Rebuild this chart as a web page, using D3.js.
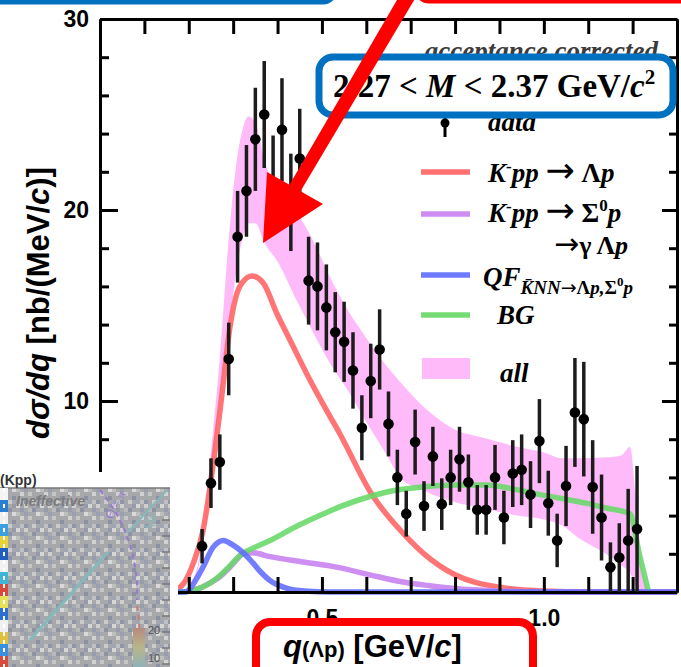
<!DOCTYPE html>
<html>
<head>
<meta charset="utf-8">
<script src="https://cdn.jsdelivr.net/npm/d3@7"></script>
<style>
  body { margin: 0; background: #fff; }
  svg { display: block; }
  .axis path, .axis line { stroke: #000; stroke-width: 3; }
  .axis text { font-family: "Liberation Sans", Arial, sans-serif; font-weight: bold; font-size: 23px; fill: #000; }
</style>
</head>
<body>
<div id="chart"></div>
<script>
// measured points, q(Λp) in GeV/c, dσ/dq in nb/(MeV/c)
var dataQ = [0.23, 0.25, 0.27, 0.29, 0.31, 0.33, 0.35, 0.37, 0.39, 0.41, 0.43, 0.45, 0.47, 0.49, 0.51,
  0.53, 0.55, 0.57, 0.59, 0.61, 0.63, 0.65, 0.67, 0.69, 0.71, 0.73, 0.75, 0.77, 0.79, 0.81, 0.83,
  0.85, 0.87, 0.89, 0.91, 0.93, 0.95, 0.97, 0.99, 1.01, 1.03, 1.05, 1.07, 1.09, 1.11, 1.13, 1.15,
  1.17, 1.19, 1.21]
var dataY = [2.4, 5.7, 6.8, 12.2, 18.6, 21.0, 23.7, 25.0, 21.3, 24.2, 20.4, 22.7, 16.3, 16.0, 14.9,
  13.6, 13.1, 11.6, 8.6, 11.05, 12.7, 8.8, 6.0, 4.1, 7.85, 4.5, 7.1, 4.6, 6.0, 6.95, 5.75,
  4.3, 4.3, 6.0, 3.9, 6.2, 6.4, 5.1, 7.9, 4.65, 2.7, 5.55, 9.4, 9.05, 5.5, 3.9, 1.3,
  1.8, 2.7, 3.3]
var dataErr = [0.9, 1.3, 1.45, 1.9, 2.4, 2.4, 2.7, 2.8, 2.6, 2.7, 2.55, 2.6, 2.3, 2.3, 2.25,
  2.1, 2.1, 2.0, 1.7, 1.95, 2.1, 1.7, 1.45, 1.2, 1.7, 1.3, 1.55, 1.35, 1.45, 1.7, 1.45,
  1.3, 1.3, 1.7, 1.4, 1.75, 1.85, 1.75, 2.2, 1.7, 1.4, 2.1, 2.85, 3.0, 2.45, 2.25, 1.3,
  1.8, 2.7, 3.3]

// model components [q, value]
var kppLambda = [[0.15, 0], [0.17, 0.1], [0.19, 0.5], [0.21, 1.5], [0.232, 3.2], [0.255, 6.7], [0.274, 10.2],
  [0.293, 13.9], [0.315, 16.0], [0.342, 16.55], [0.367, 16.2], [0.40, 14.5], [0.43, 13.1], [0.473, 11.1],
  [0.518, 9.2], [0.54, 8.3], [0.61, 5.2], [0.69, 2.9], [0.73, 2.0], [0.80, 0.9], [0.90, 0.25],
  [1.00, 0.05], [1.10, 0], [1.30, 0]]
var kppSigma = [[0.15, 0], [0.19, 0], [0.21, 0.1], [0.23, 0.25], [0.25, 0.5], [0.27, 0.8], [0.293, 1.3],
  [0.308, 1.7], [0.322, 2.0], [0.345, 2.05], [0.383, 1.85], [0.457, 1.57], [0.533, 1.3], [0.608, 0.9],
  [0.683, 0.52], [0.743, 0.33], [0.80, 0.18], [0.90, 0.05], [1.00, 0], [1.30, 0]]
var qfKNN = [[0.15, 0], [0.19, 0], [0.20, 0.1], [0.215, 0.6], [0.232, 1.3], [0.255, 2.35], [0.278, 2.7],
  [0.30, 2.45], [0.338, 1.7], [0.36, 1.1], [0.383, 0.6], [0.42, 0.2], [0.46, 0.05], [0.52, 0], [1.30, 0]]
var bgCurve = [[0.15, 0], [0.19, 0], [0.21, 0.1], [0.23, 0.25], [0.25, 0.5], [0.27, 0.85], [0.29, 1.3],
  [0.315, 1.9], [0.35, 2.35], [0.383, 2.7], [0.44, 3.4], [0.495, 4.0], [0.55, 4.55], [0.608, 5.0],
  [0.66, 5.3], [0.727, 5.5], [0.80, 5.6], [0.87, 5.6], [0.93, 5.4], [0.98, 5.15], [1.04, 4.9],
  [1.095, 4.65], [1.14, 4.4], [1.194, 4.1], [1.215, 2.0], [1.236, 0]]

// "all" band
var bandQ = [0.19, 0.21, 0.23, 0.25, 0.27, 0.29, 0.30, 0.31, 0.32, 0.334, 0.35, 0.37, 0.40, 0.44, 0.48,
  0.52, 0.56, 0.60, 0.64, 0.68, 0.72, 0.76, 0.80, 0.86, 0.94, 1.00, 1.04, 1.08, 1.14, 1.175, 1.194,
  1.21, 1.225, 1.24]
var bandHi = [0, 0.6, 2.7, 7.3, 12.3, 18.5, 21.0, 22.9, 24.1, 24.9, 24.6, 22.6, 21.2, 20.0, 18.4,
  16.4, 14.7, 13.3, 12.0, 10.9, 9.9, 9.1, 8.5, 8.1, 7.6, 7.3, 7.0, 7.0, 7.05, 7.15, 7.6,
  4.1, 0.8, 0]
var bandLo = [0, 0.4, 2.3, 5.8, 9.8, 13.8, 15.6, 17.2, 18.4, 19.3, 19.3, 18.3, 17.3, 15.4, 13.6,
  11.9, 10.5, 8.9, 7.4, 5.9, 5.4, 5.0, 4.7, 4.4, 4.0, 3.8, 3.5, 2.8, 2.0, 1.4, 1.0,
  0.3, 0, 0]

var xTickValues = [0.1, 0.2, 0.3, 0.4, 0.5, 0.6, 0.7, 0.8, 0.9, 1.0, 1.1, 1.2]
var xLabelValues = [0.5, 1.0]
var yMajorValues = [10, 20, 30]
var yMinorValues = [2, 4, 6, 8, 12, 14, 16, 18, 22, 24, 26, 28]

var RED = '#ff6262', PURPLE = '#c680f0', BLUE = '#5e6cff', GREEN = '#66d866', PINK = '#ffbaf9'
var SERIF = '"Liberation Serif", "Times New Roman", serif'
var SANS = '"Liberation Sans", Arial, sans-serif'
var ARROWF = '"DejaVu Sans", sans-serif'

var svg = d3.select('#chart').append('svg')
  .attr('width', 681)
  .attr('height', 667)

var x = d3.scaleLinear().domain([0, 1.3]).range([100, 677])
var y = d3.scaleLinear().domain([0, 30]).range([592, 19])

// band
var band = bandQ.map(function (q, i) { return { q: q, lo: bandLo[i], hi: bandHi[i] } })
svg.append('path')
  .datum(band)
  .attr('fill', PINK)
  .attr('d', d3.area()
    .x(function (d) { return x(d.q) })
    .y0(function (d) { return y(d.lo) })
    .y1(function (d) { return y(d.hi) })
    .curve(d3.curveMonotoneX))

// model curves
var line = d3.line()
  .x(function (d) { return x(d[0]) })
  .y(function (d) { return y(d[1]) })
  .curve(d3.curveMonotoneX)

var curves = [
  { data: kppLambda, color: RED },
  { data: kppSigma, color: PURPLE },
  { data: bgCurve, color: GREEN },
  { data: qfKNN, color: BLUE }
]
svg.selectAll('.model')
  .data(curves)
  .enter()
  .append('path')
  .attr('class', 'model')
  .attr('fill', 'none')
  .attr('stroke', function (d) { return d.color })
  .attr('stroke-width', 5.5)
  .attr('stroke-opacity', 0.88)
  .attr('d', function (d) { return line(d.data) })

// axes (ticks point inward)
svg.append('g')
  .attr('class', 'axis')
  .attr('transform', 'translate(0,' + y(0) + ')')
  .call(d3.axisBottom(x).tickValues(xTickValues).tickSizeInner(-15).tickSizeOuter(0).tickPadding(18)
    .tickFormat(function (d) { return xLabelValues.indexOf(d) >= 0 ? d3.format('.1f')(d) : '' }))

svg.append('g')
  .attr('class', 'axis')
  .attr('transform', 'translate(0,' + y(30) + ')')
  .call(d3.axisTop(x).tickValues(xTickValues).tickSizeInner(-15).tickSizeOuter(0).tickFormat(''))

svg.append('g')
  .attr('class', 'axis')
  .attr('transform', 'translate(' + x(0) + ',0)')
  .call(d3.axisLeft(y).tickValues(yMajorValues).tickSizeInner(-18).tickSizeOuter(0).tickPadding(11)
    .tickFormat(d3.format('d')))
svg.append('g')
  .attr('class', 'axis')
  .attr('transform', 'translate(' + x(0) + ',0)')
  .call(d3.axisLeft(y).tickValues(yMinorValues).tickSizeInner(-9).tickSizeOuter(0).tickFormat(''))

svg.append('g')
  .attr('class', 'axis')
  .attr('transform', 'translate(' + x(1.3) + ',0)')
  .call(d3.axisRight(y).tickValues(yMajorValues).tickSizeInner(-15).tickSizeOuter(0).tickFormat(''))
svg.append('g')
  .attr('class', 'axis')
  .attr('transform', 'translate(' + x(1.3) + ',0)')
  .call(d3.axisRight(y).tickValues(yMinorValues).tickSizeInner(-8).tickSizeOuter(0).tickFormat(''))

// data points
var points = dataQ.map(function (q, i) { return { q: q, v: dataY[i], e: dataErr[i] } })
var pts = svg.append('g')
pts.selectAll('line')
  .data(points)
  .enter()
  .append('line')
  .attr('x1', function (d) { return x(d.q) })
  .attr('x2', function (d) { return x(d.q) })
  .attr('y1', function (d) { return y(d.v + d.e) })
  .attr('y2', function (d) { return y(Math.max(0, d.v - d.e)) })
  .attr('stroke', '#1c1c1c')
  .attr('stroke-width', 3.5)
pts.selectAll('circle')
  .data(points)
  .enter()
  .append('circle')
  .attr('cx', function (d) { return x(d.q) })
  .attr('cy', function (d) { return y(d.v) })
  .attr('r', 5.3)
  .attr('fill', '#000')

// y title
var yt = svg.append('text')
  .attr('transform', 'translate(49,303) rotate(-90)')
  .attr('text-anchor', 'middle')
  .style('font-family', SANS)
  .style('font-weight', 'bold')
  .style('font-size', '31px')
yt.append('tspan').style('font-style', 'italic').text('dσ/dq')
yt.append('tspan').text(' [nb/(MeV/')
yt.append('tspan').style('font-style', 'italic').text('c')
yt.append('tspan').text(')]')

// helper for rich text: [text, italic, size, dy, family, weight]
function rich (px, py, size, parts) {
  var t = svg.append('text')
    .attr('x', px).attr('y', py)
    .style('font-family', SERIF)
    .style('font-weight', 'bold')
    .style('font-size', size + 'px')
  parts.forEach(function (p) {
    var s = t.append('tspan').text(p[0])
    if (p[1]) s.style('font-style', 'italic')
    if (p[2]) s.style('font-size', p[2] + 'px')
    if (p[3]) s.attr('dy', p[3])
    if (p[4]) s.style('font-family', p[4])
    if (p[5]) s.style('font-weight', p[5])
  })
  return t
}

// legend
var legendRows = [
  { y: 172, color: RED },
  { y: 214, color: PURPLE },
  { y: 275, color: BLUE },
  { y: 315, color: GREEN }
]
svg.selectAll('.leg')
  .data(legendRows)
  .enter()
  .append('line')
  .attr('x1', 421).attr('x2', 470)
  .attr('y1', function (d) { return d.y }).attr('y2', function (d) { return d.y })
  .attr('stroke', function (d) { return d.color })
  .attr('stroke-width', 5.5)
  .attr('stroke-opacity', 0.9)
svg.append('rect').attr('x', 422).attr('y', 358).attr('width', 48).attr('height', 21).attr('fill', PINK)

rich(488, 182, 27, [['K', 1], ['-', 0, 17, -10], ['pp', 1, 27, 10], [' ', 0], ['→', 0, 35, 0, ARROWF, 'normal'], [' ', 0], ['Λ', 0], ['p', 1]])
rich(488, 222, 27, [['K', 1], ['-', 0, 17, -10], ['pp', 1, 27, 10], [' ', 0], ['→', 0, 35, 0, ARROWF, 'normal'], [' ', 0], ['Σ', 0], ['0', 0, 17, -11], ['p', 1, 27, 11]])
rich(554, 254, 26, [['→', 0, 30, 0, ARROWF, 'normal'], ['γ ', 0], ['Λ', 0], ['p', 1]])
rich(483, 286, 27, [['QF', 1], ['K̄NN', 1, 19, 8], ['→', 0, 19, 0, ARROWF, 'normal'], ['Λ', 0, 19], ['p,', 1, 19], ['Σ', 0, 19], ['0', 0, 13, -8], ['p', 1, 19, 8]])
rich(497, 324, 27, [['BG', 1]])
rich(500, 382, 27, [['all', 1]])

// "data" entry and the acceptance note (partly hidden by the box)
svg.append('text')
  .attr('x', 658).attr('y', 60)
  .attr('text-anchor', 'end')
  .style('font-family', SERIF).style('font-weight', 'bold').style('font-style', 'italic')
  .style('font-size', '27px').style('fill', '#3c3c3c')
  .text('acceptance corrected')
svg.append('line').attr('x1', 445).attr('x2', 445).attr('y1', 110).attr('y2', 137)
  .attr('stroke', '#000').attr('stroke-width', 3)
svg.append('circle').attr('cx', 445).attr('cy', 123).attr('r', 4.5).attr('fill', '#000')
rich(488, 131, 27, [['data', 1]])

// blue mass box
svg.append('rect')
  .attr('x', 319).attr('y', 57).attr('width', 354).attr('height', 58).attr('rx', 14)
  .attr('fill', '#fff').attr('stroke', '#0070c0').attr('stroke-width', 7)
rich(333, 97, 33, [['2.27 < ', 0], ['M', 1], [' < 2.37 GeV/', 0], ['c', 1], ['2', 0, 21, -13]])

// top frames cut by the page edge
svg.append('rect')
  .attr('x', -30).attr('y', -60).attr('width', 365).attr('height', 62).attr('rx', 12)
  .attr('fill', 'none').attr('stroke', '#0070c0').attr('stroke-width', 5)
svg.append('rect')
  .attr('x', 417).attr('y', -60).attr('width', 300).attr('height', 61).attr('rx', 12)
  .attr('fill', 'none').attr('stroke', '#ff0000').attr('stroke-width', 5)

// x title in red box
svg.append('rect')
  .attr('x', 256).attr('y', 622).attr('width', 277).attr('height', 80).attr('rx', 14)
  .attr('fill', '#fff').attr('stroke', '#ff0000').attr('stroke-width', 8)
var xt = svg.append('text')
  .attr('x', 283).attr('y', 657)
  .style('font-family', SANS).style('font-weight', 'bold').style('font-size', '31px')
xt.append('tspan').style('font-style', 'italic').text('q')
xt.append('tspan').style('font-size', '22px').text('(Λp)')
xt.append('tspan').text(' [GeV/')
xt.append('tspan').style('font-style', 'italic').text('c')
xt.append('tspan').text(']')

// inset picture in the lower left corner
var defs = svg.append('defs')
var pat = defs.append('pattern').attr('id', 'mottle')
  .attr('width', 24).attr('height', 24).attr('patternUnits', 'userSpaceOnUse')
pat.append('rect').attr('width', 24).attr('height', 24).attr('fill', '#a7a8ab')
var cells = [[0, 0, '#cfcfcf'], [8, 4, '#8d93a3'], [16, 0, '#d6d6d6'], [4, 12, '#c6c6c6'],
  [12, 16, '#8b91a1'], [20, 12, '#d2d2d2'], [0, 20, '#9096a8'], [16, 8, '#bebebe'], [8, 20, '#cbcbcb'],
  [20, 4, '#979cad'], [4, 4, '#b9b9b9'], [12, 8, '#d9d9d9'], [0, 8, '#9aa0b0'], [20, 20, '#c1c1c1'],
  [12, 0, '#959aab'], [16, 20, '#a0a5b4']]
cells.forEach(function (c) {
  pat.append('rect').attr('x', c[0]).attr('y', c[1]).attr('width', 4).attr('height', 4).attr('fill', c[2])
})
var grad = defs.append('linearGradient').attr('id', 'cbar').attr('x1', 0).attr('x2', 0).attr('y1', 0).attr('y2', 1)
grad.append('stop').attr('offset', '0%').attr('stop-color', '#b58a7e')
grad.append('stop').attr('offset', '50%').attr('stop-color', '#b9b58a')
grad.append('stop').attr('offset', '100%').attr('stop-color', '#8fb3b8')

var inset = svg.append('g')
inset.append('rect').attr('x', 0).attr('y', 472).attr('width', 178).attr('height', 195).attr('fill', '#fff')
inset.append('rect').attr('x', 0).attr('y', 488).attr('width', 170).attr('height', 179).attr('fill', 'url(#mottle)')
inset.append('line').attr('x1', 0).attr('x2', 170).attr('y1', 488).attr('y2', 488).attr('stroke', '#777').attr('stroke-width', 1.5)
var strip = [['#f5f5f5', 488], ['#2a7fd0', 500], ['#f0f0f0', 512], ['#3aa0e0', 524], ['#e8d23a', 536], ['#1f5fbf', 548],
  ['#f2f2f2', 560], ['#3fb6d8', 572], ['#d9463a', 584], ['#e7e15a', 596], ['#2c6fd0', 608], ['#f0f0f0', 620],
  ['#e0c040', 632], ['#3a90e0', 644], ['#d94a3a', 656]]
strip.forEach(function (s) {
  inset.append('rect').attr('x', 0).attr('y', s[1]).attr('width', 8).attr('height', 12).attr('fill', s[0])
})
inset.append('line').attr('x1', 4).attr('x2', 4).attr('y1', 488).attr('y2', 667)
  .attr('stroke', '#fff').attr('stroke-width', 2).attr('stroke-dasharray', '4,4')
inset.append('text').attr('x', 0).attr('y', 485)
  .style('font-family', SANS).style('font-weight', 'bold').style('font-size', '14px').style('fill', '#333')
  .text('(Kpp)')
inset.append('text').attr('x', 16).attr('y', 506)
  .style('font-family', SANS).style('font-weight', 'bold').style('font-style', 'italic')
  .style('font-size', '14px').style('fill', '#7c7c7c')
  .text('Ineffective')
inset.append('path').attr('d', 'M 100 490 A 160 160 0 0 1 137 600')
  .attr('fill', 'none').attr('stroke', '#9a78d0').attr('stroke-width', 2).attr('stroke-dasharray', '5,4')
inset.append('path').attr('d', 'M 137 606 A 160 160 0 0 1 136 667')
  .attr('fill', 'none').attr('stroke', '#c87a7a').attr('stroke-width', 2).attr('stroke-dasharray', '5,4')
inset.append('line').attr('x1', 30).attr('y1', 640).attr('x2', 108).attr('y2', 552)
  .attr('stroke', '#86b9bb').attr('stroke-width', 3)
inset.append('line').attr('x1', 127).attr('y1', 533).attr('x2', 167).attr('y2', 490)
  .attr('stroke', '#86b9bb').attr('stroke-width', 2)
inset.append('text').attr('transform', 'translate(112,520) rotate(-62)')
  .style('font-family', SERIF).style('font-size', '13px').style('fill', '#9a78d0')
  .text('Θ = π')
inset.append('text').attr('transform', 'translate(148,530) rotate(-48)')
  .style('font-family', SERIF).style('font-size', '13px').style('fill', '#86b9bb')
  .text('QF')
inset.append('rect').attr('x', 133).attr('y', 628).attr('width', 12).attr('height', 39).attr('fill', 'url(#cbar)')
inset.append('text').attr('x', 148).attr('y', 634)
  .style('font-family', SANS).style('font-size', '11px').style('fill', '#555').text('20')
inset.append('text').attr('x', 148).attr('y', 662)
  .style('font-family', SANS).style('font-size', '11px').style('fill', '#555').text('10')
d3.range(520, 667, 16).forEach(function (ty) {
  inset.append('line').attr('x1', 162).attr('x2', 170).attr('y1', ty).attr('y2', ty)
    .attr('stroke', '#777').attr('stroke-width', 1.5)
})

// big red arrow pointing at the peak
svg.append('path')
  .attr('d', 'M263,243 L267,172 L289.5,184.8 L408.9,-20.5 L421.9,-13.0 L300.5,191.2 L323,204 Z')
  .attr('fill', '#ff0000')
</script>
</body>
</html>
